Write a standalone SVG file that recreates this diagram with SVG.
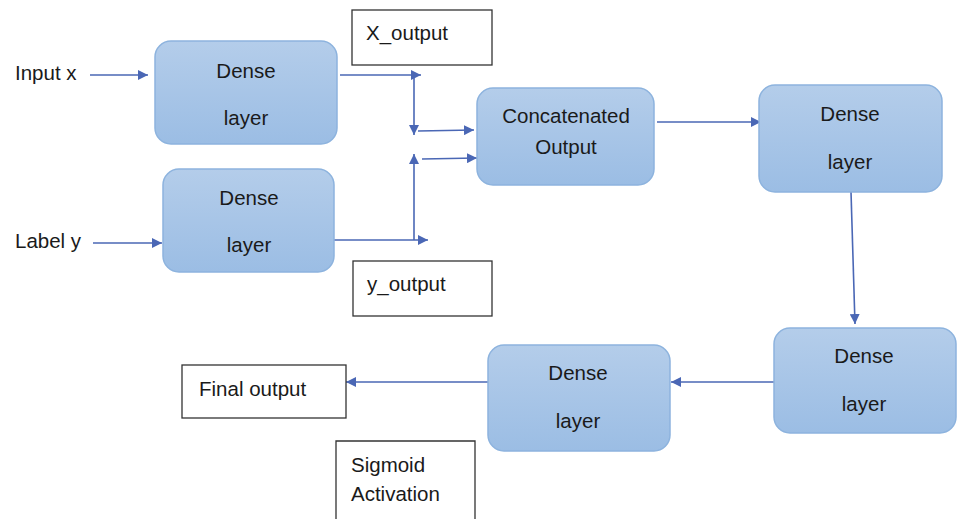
<svg xmlns="http://www.w3.org/2000/svg" width="957" height="519" viewBox="0 0 957 519">
<style>
text{font-family:"Liberation Sans",Arial,sans-serif;font-size:20.5px;fill:#1a1a1a}
.n{fill:url(#g);stroke:#8db3de;stroke-width:1.5}
.b{fill:#fff;stroke:#333;stroke-width:1.3}
.c{stroke:#4a67b5;stroke-width:1.6;fill:none;marker-end:url(#a)}
.m{text-anchor:middle}
</style>
<defs>
<linearGradient id="g" x1="0" y1="0" x2="0" y2="1">
<stop offset="0" stop-color="#b4cdea"/>
<stop offset="1" stop-color="#9bbde4"/>
</linearGradient>
<marker id="a" viewBox="0 0 10 10" refX="10" refY="5" markerWidth="10" markerHeight="10" markerUnits="userSpaceOnUse" orient="auto">
<path d="M0,0L10,5L0,10z" fill="#4a67b5"/>
</marker>
</defs>
<rect width="957" height="519" fill="#fff"/>
<g id="connectors">
<line class="c" x1="90" y1="75" x2="148" y2="75"/>
<line class="c" x1="93" y1="243" x2="162" y2="243"/>
<line class="c" x1="340" y1="75" x2="421" y2="75"/>
<line class="c" x1="414" y1="75" x2="414" y2="135"/>
<line class="c" x1="418" y1="131" x2="474" y2="130"/>
<line class="c" x1="334" y1="240" x2="428" y2="240"/>
<line class="c" x1="414" y1="240" x2="414" y2="154"/>
<line class="c" x1="422" y1="159" x2="477" y2="158"/>
<line class="c" x1="657" y1="122" x2="761" y2="122"/>
<line class="c" x1="851" y1="192" x2="855" y2="324"/>
<line class="c" x1="776" y1="382" x2="671" y2="382"/>
<line class="c" x1="488" y1="382" x2="346" y2="382"/>
</g>
<g id="input-x"><text x="15" y="80">Input x</text></g>
<g id="label-y"><text x="15" y="248">Label y</text></g>
<g id="dense1"><rect class="n" x="155" y="41" width="182" height="103" rx="16"/><text class="m" x="246" y="78">Dense</text><text class="m" x="246" y="125">layer</text></g>
<g id="dense2"><rect class="n" x="163" y="169" width="171" height="103" rx="16"/><text class="m" x="249" y="205">Dense</text><text class="m" x="249" y="252">layer</text></g>
<g id="x-output"><rect class="b" x="352" y="10" width="140" height="55"/><text x="366" y="40">X_output</text></g>
<g id="y-output"><rect class="b" x="353" y="261" width="139" height="55"/><text x="367" y="291">y_output</text></g>
<g id="concat"><rect class="n" x="477" y="88" width="177" height="97" rx="16"/><text class="m" x="566" y="123">Concatenated</text><text class="m" x="566" y="154">Output</text></g>
<g id="dense3"><rect class="n" x="759" y="85" width="183" height="107" rx="16"/><text class="m" x="850" y="121">Dense</text><text class="m" x="850" y="169">layer</text></g>
<g id="dense4"><rect class="n" x="774" y="328" width="182" height="105" rx="16"/><text class="m" x="864" y="363">Dense</text><text class="m" x="864" y="411">layer</text></g>
<g id="dense5"><rect class="n" x="488" y="345" width="182" height="106" rx="16"/><text class="m" x="578" y="380">Dense</text><text class="m" x="578" y="428">layer</text></g>
<g id="final-output"><rect class="b" x="182" y="365" width="164" height="53"/><text x="199" y="396">Final output</text></g>
<g id="sigmoid"><path class="b" d="M336,520V441H475V520"/><text x="351" y="472">Sigmoid</text><text x="351" y="501">Activation</text></g>
</svg>
